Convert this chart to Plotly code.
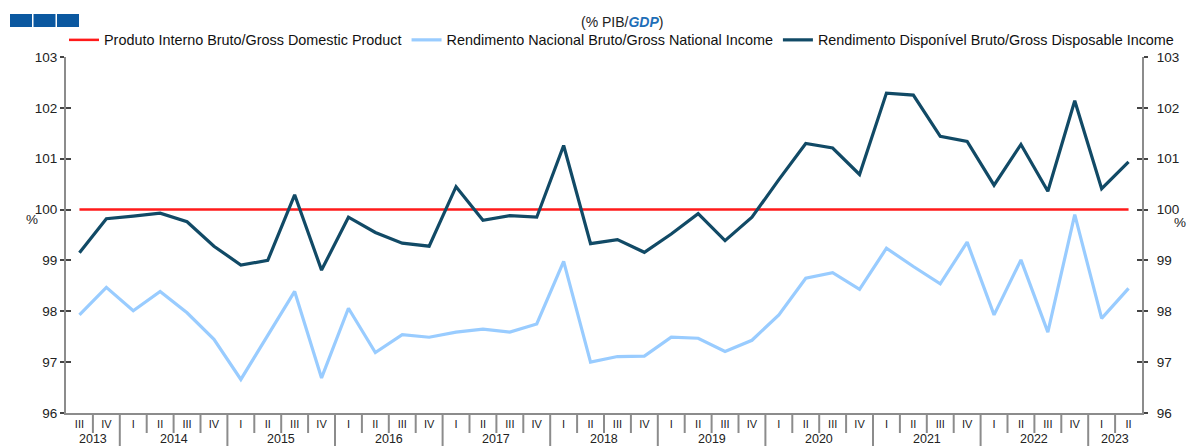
import plotly.graph_objects as go

quarters = ["III", "IV"] + ["I", "II", "III", "IV"] * 9 + ["I", "II"]
years = ["2013", "2014", "2015", "2016", "2017", "2018", "2019", "2020", "2021", "2022", "2023"]
year_counts = [2, 4, 4, 4, 4, 4, 4, 4, 4, 4, 2]

gdp = [100.0] * 40
gni = [97.93, 98.47, 98.01, 98.39, 97.97, 97.45, 96.66, 97.52, 98.39, 96.69,
       98.06, 97.19, 97.54, 97.49, 97.59, 97.65, 97.59, 97.75, 98.98, 97.00,
       97.11, 97.12, 97.49, 97.47, 97.21, 97.43, 97.93, 98.65, 98.76, 98.43,
       99.24, 98.88, 98.54, 99.36, 97.93, 99.01, 97.59, 99.90, 97.86, 98.45]
gdi = [99.15, 99.82, 99.87, 99.93, 99.76, 99.28, 98.91, 99.00, 100.29, 98.81,
       99.85, 99.55, 99.34, 99.28, 100.45, 99.79, 99.88, 99.85, 101.26, 99.33,
       99.41, 99.16, 99.52, 99.92, 99.39, 99.85, 100.59, 101.30, 101.21, 100.69,
       102.29, 102.25, 101.44, 101.34, 100.48, 101.28, 100.36, 102.14, 100.41, 100.94]

names = ["Produto Interno Bruto/Gross Domestic Product",
         "Rendimento Nacional Bruto/Gross National Income",
         "Rendimento Disponível Bruto/Gross Disposable Income"]
colors = ["#ff1a1a", "#99ccff", "#114a66"]

# The page body has an 8px margin, so figure pixel = page pixel - 8
OFF = 8
W, H = 1196, 446
plot_left, plot_right, plot_top, plot_bottom = 66, 1142, 57, 413  # page pixels
L = plot_left - OFF
T = plot_top - OFF
R = W - (plot_right - OFF)
B = H - (plot_bottom - OFF)
pw, ph = plot_right - plot_left, plot_bottom - plot_top

def px(p):
    return (p - plot_left) / pw

def py(p):
    return (plot_bottom - p) / ph

x = list(range(len(quarters)))
fig = go.Figure()
for name, vals, col, wd in zip(names, [gdp, gni, gdi], colors, [2.5, 3.2, 3.2]):
    fig.add_trace(go.Scatter(x=x, y=vals, mode="lines", name=name,
                             line=dict(color=col, width=wd)))

font = "Liberation Sans, Arial, sans-serif"
ax_col = "#8c8c8c"
tick_font = dict(size=13.5, color="#222222")
yrange = [96, 103]
fig.update_layout(
    template="none",
    width=W, height=H,
    margin=dict(l=L, r=R, t=T, b=B, autoexpand=False),
    paper_bgcolor="white", plot_bgcolor="white",
    font=dict(family=font, size=12, color="#222222"),
    showlegend=True,
    legend=dict(orientation="h", x=px(64), xanchor="left", y=py(40), yanchor="middle",
                font=dict(size=14.4, color="#111111"), itemwidth=30,
                tracegroupgap=0, bgcolor="rgba(0,0,0,0)"),
    xaxis=dict(range=[-0.5, 39.5], tickvals=x, ticktext=quarters, ticks="",
               showgrid=False, zeroline=False, showline=True, linecolor=ax_col,
               linewidth=2, tickfont=dict(size=11, color="#222222"), automargin=False),
    yaxis=dict(range=yrange, dtick=1, showgrid=False, zeroline=False, showline=True,
               linecolor=ax_col, linewidth=2, ticks="outside", ticklen=4, tickwidth=1.5,
               tickcolor="#444444", tickfont=tick_font, automargin=False),
    yaxis2=dict(range=yrange, dtick=1, overlaying="y", side="right", showgrid=False,
                zeroline=False, showline=True, linecolor=ax_col, linewidth=2,
                ticks="outside", ticklen=4, tickwidth=1.5, tickcolor="#444444",
                tickfont=tick_font, ticklabelstandoff=6, automargin=False),
    yaxis3=dict(range=yrange, dtick=1, overlaying="y", side="left", showgrid=False,
                zeroline=False, showticklabels=False, ticks="inside", ticklen=5,
                tickwidth=1.5, tickcolor="#444444", automargin=False),
    yaxis4=dict(range=yrange, dtick=1, overlaying="y", side="right", showgrid=False,
                zeroline=False, showticklabels=False, ticks="inside", ticklen=5,
                tickwidth=1.5, tickcolor="#444444", automargin=False),
)
for ya in ["y2", "y3", "y4"]:
    fig.add_trace(go.Scatter(x=[0], y=[100], yaxis=ya, mode="markers",
                             marker=dict(opacity=0), showlegend=False, hoverinfo="skip"))

shapes = []
year_bounds = set()
acc = 0
for c in year_counts[:-1]:
    acc += c
    year_bounds.add(acc)
for i in range(1, len(quarters)):
    long = i in year_bounds
    shapes.append(dict(type="line", xref="x", yref="paper", x0=i - 0.5, x1=i - 0.5,
                       y0=0, y1=py(450) if long else py(433),
                       line=dict(color=ax_col, width=2)))
for k in range(3):
    shapes.append(dict(type="rect", xref="paper", yref="paper",
                       x0=px(10 + k * 23.5), x1=px(32 + k * 23.5), y0=py(27), y1=py(14),
                       fillcolor="#0b58a0", line=dict(width=0)))
fig.update_layout(shapes=shapes)

ann = []
acc = 0
for yr, c in zip(years, year_counts):
    center = acc + (c - 1) / 2
    ann.append(dict(x=center, y=py(438.5), xref="x", yref="paper", text=yr, showarrow=False,
                    font=dict(size=12.5, color="#222222"), yanchor="middle"))
    acc += c
ann.append(dict(x=px(622), y=py(22), xref="paper", yref="paper", showarrow=False,
                text="(% PIB/<b><i><span style='color:#1f6fb8'>GDP</span></i></b>)",
                font=dict(size=14, color="#222222"), yanchor="middle"))
ann.append(dict(x=px(24), y=py(220), xref="paper", yref="paper", showarrow=False,
                text="%", font=dict(size=13.5, color="#222222"), yanchor="middle"))
ann.append(dict(x=px(1188), y=py(222), xref="paper", yref="paper", showarrow=False,
                text="%", font=dict(size=13.5, color="#222222"), yanchor="middle"))
fig.update_layout(annotations=ann)

fig.write_html("out.html")
